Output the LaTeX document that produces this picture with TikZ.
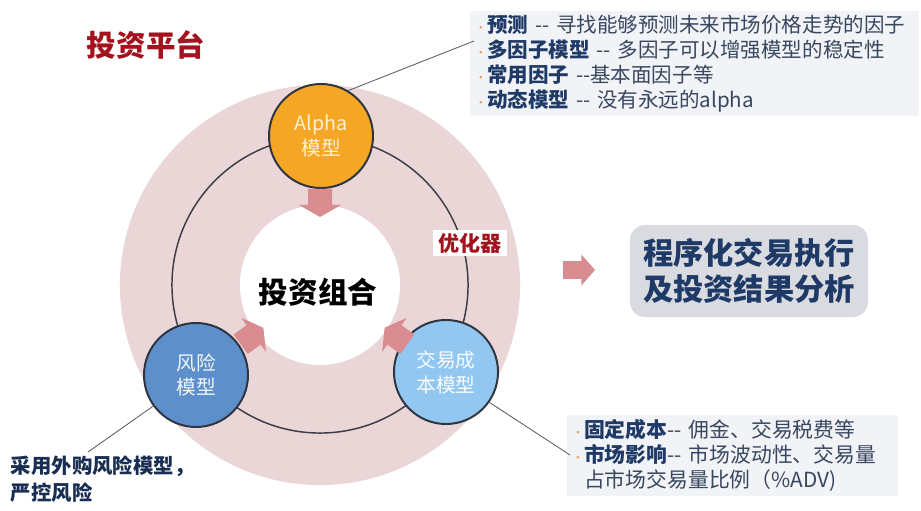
\documentclass[tikz,border=0pt]{standalone}
\usepackage{fontspec}
\setmainfont{Noto Sans CJK SC}
\usepackage{xcolor}
\usetikzlibrary{positioning, calc}
\definecolor{cPink}    {HTML}{EAD5D7}
\definecolor{cRing}    {HTML}{3C3F48}
\definecolor{cAlpha}   {HTML}{F6A625}
\definecolor{cAlphaTxt}{HTML}{FFF1D4}
\definecolor{cRisk}    {HTML}{5D8FCA}
\definecolor{cCost}    {HTML}{92C7F1}
\definecolor{cEdge}    {HTML}{2E3440}
\definecolor{cArrow}   {HTML}{D98C90}
\definecolor{cTitle}   {HTML}{A3121E}
\definecolor{cNavy}    {HTML}{1F3A66}
\definecolor{cText}    {HTML}{38475F}
\definecolor{cBullet}  {HTML}{E9A267}
\definecolor{cNoteBg}  {HTML}{F1F3F6}
\definecolor{cBoxBg}   {HTML}{D9DBE0}
\newcommand{\bulletmark}{{\color{cBullet}\fontsize{9}{9}\selectfont\textbullet}}
\newcommand{\dd}{-{}-}
\newcommand{\blockarrow}[3][]{%
  \fill[cArrow, shift={#2}, rotate=#3, #1]
    (-14,-12) -- (2,-12) -- (2,-21) -- (14,0) -- (2,21) -- (2,12) -- (-14,12) -- cycle;}
\tikzset{
  model/.style={circle, draw=cEdge, line width=1.4pt, minimum size=2.6cm,
    inner sep=0pt, align=center, font=\fontsize{14}{17.7}\selectfont},
  note/.style={fill=cNoteBg, align=left, inner xsep=3pt, inner ysep=3pt,
    text=cText, font=\fontsize{14.6}{17.7}\selectfont},
  leader/.style={draw=cRing!85, line width=0.6pt},
}

\begin{document}
\begin{tikzpicture}[x=0.025cm, y=-0.025cm]
  \fill[white] (0,0) rectangle (921,511);
  \useasboundingbox (0,0) rectangle (921,511);
  % platform disk and optimizer ring
  \coordinate (hub) at (320,285);
  \fill[cPink] (hub) circle (5cm);
  \draw[cRing, line width=1.05pt] (hub) circle (3.7cm);
  \fill[white] (hub) circle (2cm);

  \node[text=cTitle, font=\bfseries\fontsize{21}{25}\selectfont] (platform) at (146,45) {投资平台};
  \node[font=\bfseries\fontsize{21}{25}\selectfont] (portfolio) at (318,292) {投资组合};
  \node[fill=white, text=cTitle, inner xsep=4pt, inner ysep=2pt,
        font=\bfseries\fontsize{15}{18}\selectfont] (optimizer) at (470,243) {优化器};

  % three models
  \node[model, fill=cAlpha, text=cAlphaTxt] (alpha) at (321,136) {Alpha\\模型};
  \node[model, fill=cRisk, text=white!92!cRisk] (risk) at (196,375) {风险\\模型};
  \node[model, fill=cCost, text=white!95!cCost] (cost) at (446,372) {交易成\\本模型};

  \blockarrow{(320,203)}{-90}
  \blockarrow{(252,336)}{36}
  \blockarrow{(396,336)}{144}
  \blockarrow[xscale=1.14, yscale=0.74]{(579,270)}{0}

  % notes
  \node[note, anchor=north west, text width=11cm] (alphaNote) at (470,11) {%
    \bulletmark\textcolor{cNavy}{\textbf{预测}} \dd{} 寻找能够预测未来市场价格走势的因子\\
    \bulletmark\textcolor{cNavy}{\textbf{多因子模型}} \dd{} 多因子可以增强模型的稳定性\\
    \bulletmark\textcolor{cNavy}{\textbf{常用因子}} \dd{}基本面因子等\\
    \bulletmark\textcolor{cNavy}{\textbf{动态模型}} \dd{} 没有永远的alpha};
  \node[note, anchor=north west, text width=8.05cm, font=\fontsize{14.8}{17.7}\selectfont]
        (costNote) at (567,415) {%
    \bulletmark\textcolor{cNavy}{\textbf{固定成本}}\dd{} 佣金、交易税费等\\
    \bulletmark\textcolor{cNavy}{\textbf{市场影响}}\dd{} 市场波动性、交易量\\
    \phantom{\bulletmark}占市场交易量比例（\%ADV)};
  \node[anchor=north west, align=left, text=cNavy!80!black,
        font=\bfseries\fontsize{14.5}{19}\selectfont] (riskNote) at (6,451) {%
    采用外购风险模型，\\严控风险};
  \node[rounded corners=0.38cm, fill=cBoxBg, minimum width=5.95cm, minimum height=2.3cm,
        align=center, text=cNavy, font=\bfseries\fontsize{21.5}{25.5}\selectfont]
        (exec) at (749,271) {程序化交易执行\\及投资结果分析};

  % leader lines
  \coordinate (alphaTip) at (474,41);
  \coordinate (riskTip) at (88,452);
  \coordinate (costTip) at (570,455);
  \draw[leader] (alpha.59) -- (alphaTip);
  \draw[leader] (risk.216) -- (riskTip);
  \draw[leader] (cost.-35) -- (costTip);
\end{tikzpicture}
\end{document}
